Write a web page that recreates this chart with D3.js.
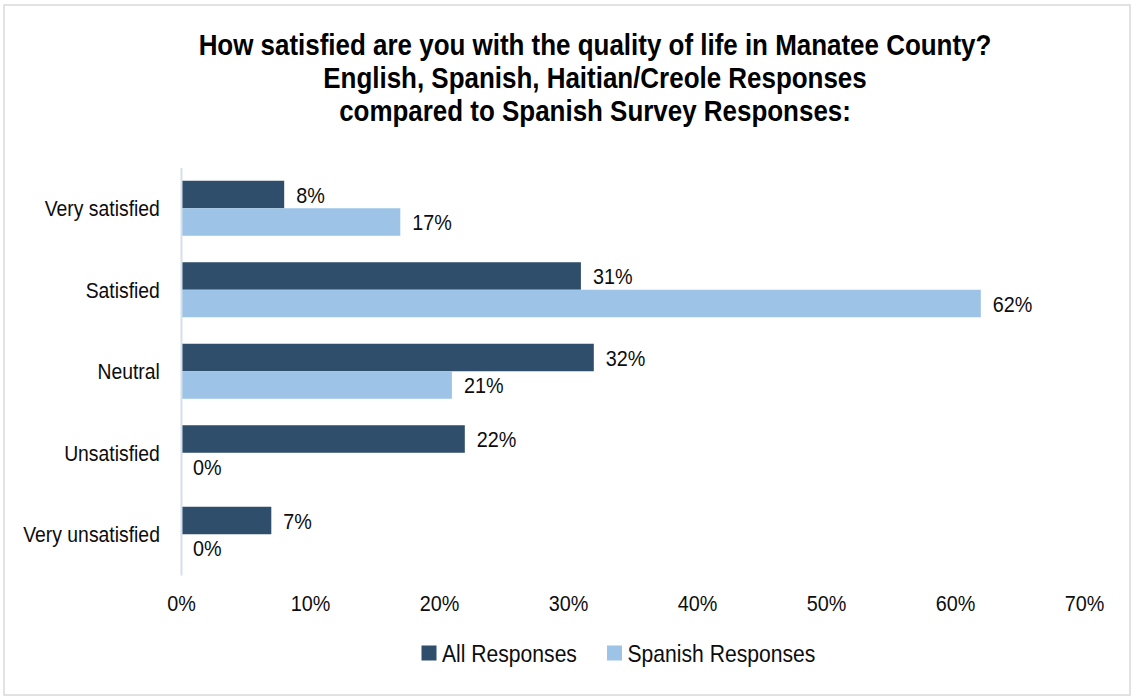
<!DOCTYPE html>
<html>
<head>
<meta charset="utf-8">
<script src="https://cdn.jsdelivr.net/npm/d3@7"></script>
<style>
  body { margin: 0; background: #fff; }
  svg { display: block; font-family: "Liberation Sans", Arial, sans-serif; }
</style>
</head>
<body>
<svg id="chart" width="1131" height="698"></svg>
<script>
// values
const categories = ['Very satisfied', 'Satisfied', 'Neutral', 'Unsatisfied', 'Very unsatisfied'];
const allResponses = [8, 31, 32, 22, 7];
const spanishResponses = [17, 62, 21, 0, 0];
const seriesNames = ['All Responses', 'Spanish Responses'];
const seriesColors = ['#2e4e6b', '#9dc3e6'];
const xTicks = [0, 10, 20, 30, 40, 50, 60, 70];
const titleLines = [
  'How satisfied are you with the quality of life in Manatee County?',
  'English, Spanish, Haitian/Creole Responses',
  'compared to Spanish Survey Responses:'
];

// the reference text is a bit condensed, squeeze it horizontally
const squeeze = 0.88;

const svg = d3.select('#chart');

// outer frame
svg.append('rect')
  .attr('x', 4).attr('y', 5)
  .attr('width', 1126).attr('height', 690)
  .attr('fill', 'none')
  .attr('stroke', '#d9d9d9')
  .attr('stroke-width', 1.5);

const xScale = d3.scaleLinear()
  .domain([0, 70])
  .range([181, 1084]);

const yScale = d3.scaleBand()
  .domain(categories)
  .range([167.5, 575])
  .paddingInner(0.325)
  .paddingOuter(0.1625);

const subScale = d3.scaleBand()
  .domain(seriesNames)
  .range([0, yScale.bandwidth()]);

const rows = categories.map((c, i) => ({
  category: c,
  values: [
    { series: seriesNames[0], value: allResponses[i], color: seriesColors[0] },
    { series: seriesNames[1], value: spanishResponses[i], color: seriesColors[1] }
  ]
}));

// title
svg.append('g')
  .selectAll('text')
  .data(titleLines)
  .enter()
  .append('text')
  .attr('transform', (d, i) => `translate(595, ${55 + i * 33}) scale(0.88, 1)`)
  .attr('text-anchor', 'middle')
  .attr('font-size', '29.5px')
  .attr('font-weight', 'bold')
  .attr('fill', '#000')
  .text(d => d);

// bars
const groups = svg.append('g')
  .selectAll('g')
  .data(rows)
  .enter()
  .append('g')
  .attr('transform', d => `translate(0, ${yScale(d.category)})`);

groups.selectAll('rect')
  .data(d => d.values)
  .enter()
  .append('rect')
  .attr('x', xScale(0))
  .attr('y', d => subScale(d.series))
  .attr('width', d => xScale(d.value) - xScale(0))
  .attr('height', subScale.bandwidth())
  .attr('fill', d => d.color);

groups.selectAll('text')
  .data(d => d.values)
  .enter()
  .append('text')
  .attr('transform', d => `translate(${xScale(d.value) + 12}, ${subScale(d.series) + subScale.bandwidth() / 2}) scale(${squeeze}, 1)`)
  .attr('dy', '0.36em')
  .attr('font-size', '22.5px')
  .attr('fill', '#0d0d0d')
  .text(d => d.value + '%');

// y axis (category labels + the thin vertical line)
const yAxis = svg.append('g')
  .attr('transform', `translate(${xScale(0)}, 0)`)
  .call(d3.axisLeft(yScale).tickSize(0).tickSizeOuter(0).tickPadding(24));

yAxis.select('.domain')
  .attr('stroke', '#d5dfee')
  .attr('stroke-width', 2);

yAxis.selectAll('.tick text')
  .attr('font-size', '22px')
  .attr('font-family', '"Liberation Sans", Arial, sans-serif')
  .attr('fill', '#0d0d0d')
  .attr('dy', '0.36em')
  .attr('transform', `scale(${squeeze}, 1)`);

// x axis labels only
const xAxis = svg.append('g')
  .attr('transform', 'translate(0, 575)')
  .call(d3.axisBottom(xScale)
    .tickValues(xTicks)
    .tickSize(0)
    .tickPadding(20)
    .tickFormat(d => d + '%'));

xAxis.select('.domain').remove();

xAxis.selectAll('.tick text')
  .attr('font-size', '22.5px')
  .attr('font-family', '"Liberation Sans", Arial, sans-serif')
  .attr('fill', '#0d0d0d')
  .attr('transform', `scale(${squeeze}, 1)`);

// legend
const legendX = [421.5, 607];
const legend = svg.append('g')
  .selectAll('g')
  .data(seriesNames)
  .enter()
  .append('g')
  .attr('transform', (d, i) => `translate(${legendX[i]}, 645.5)`);

legend.append('rect')
  .attr('width', 15)
  .attr('height', 15)
  .attr('fill', (d, i) => seriesColors[i]);

legend.append('text')
  .attr('transform', `translate(20.5, 7.5) scale(${squeeze}, 1)`)
  .attr('dy', '0.36em')
  .attr('font-size', '24px')
  .attr('fill', '#0d0d0d')
  .text(d => d);
</script>
</body>
</html>
